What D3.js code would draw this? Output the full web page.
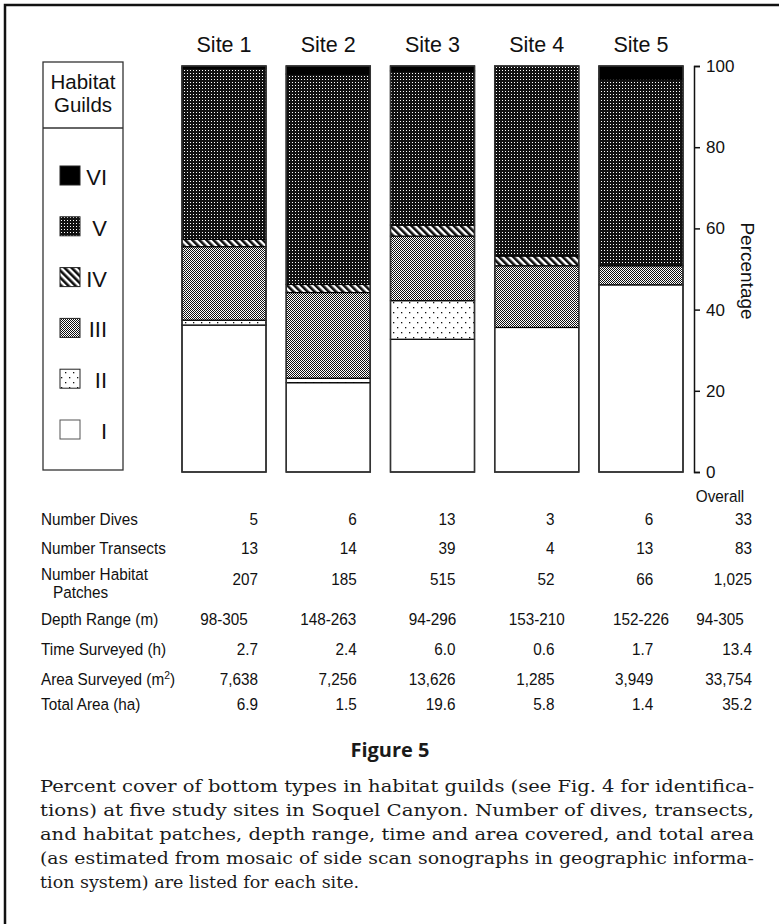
<!DOCTYPE html>
<html><head><meta charset="utf-8">
<script src="https://cdn.jsdelivr.net/npm/d3@7"></script>
<style>body{margin:0;background:#fff} svg{display:block}</style>
</head><body><svg id="c" width="779" height="924"></svg>
<script>
// ---------- data ----------
const sites = ["Site 1", "Site 2", "Site 3", "Site 4", "Site 5"];
const guilds = ["I", "II", "III", "IV", "V", "VI"];
const guildI   = [36.2, 22.0, 32.7, 35.6, 46.1];
const guildII  = [1.2, 1.1, 9.5, 0, 0];
const guildIII = [18.1, 21.1, 15.9, 15.2, 4.7];
const guildIV  = [1.8, 2.0, 2.7, 2.4, 0];
const guildV   = [42.2, 51.8, 38.0, 46.8, 46.0];
const guildVI  = [0.5, 2.0, 1.2, 0, 3.2];
const yTicks = [0, 20, 40, 60, 80, 100];

const tableCols = ["Site 1", "Site 2", "Site 3", "Site 4", "Site 5", "Overall"];
const rowNames = ["Number Dives", "Number Transects", "Number Habitat Patches", "Depth Range (m)",
                  "Time Surveyed (h)", "Area Surveyed (m2)", "Total Area (ha)"];
const numberDives     = ["5", "6", "13", "3", "6", "33"];
const numberTransects = ["13", "14", "39", "4", "13", "83"];
const numberPatches   = ["207", "185", "515", "52", "66", "1,025"];
const depthRange      = ["98-305", "148-263", "94-296", "153-210", "152-226", "94-305"];
const timeSurveyed    = ["2.7", "2.4", "6.0", "0.6", "1.7", "13.4"];
const areaSurveyed    = ["7,638", "7,256", "13,626", "1,285", "3,949", "33,754"];
const totalArea       = ["6.9", "1.5", "19.6", "5.8", "1.4", "35.2"];

const captionTitle = "Figure 5";
const captionLines = [
  "Percent cover of bottom types in habitat guilds (see Fig. 4 for identifica-",
  "tions) at five study sites in Soquel Canyon. Number of dives, transects,",
  "and habitat patches, depth range, time and area covered, and total area",
  "(as estimated from mosaic of side scan sonographs in geographic informa-",
  "tion system) are listed for each site."
];

// ---------- setup ----------
const svg = d3.select("#c");
const SANS = "'Liberation Sans', Arial, Helvetica, sans-serif";
const defs = svg.append("defs");

function pattern(id, w, h, build, transform) {
  const p = defs.append("pattern").attr("id", id).attr("patternUnits", "userSpaceOnUse")
    .attr("width", w).attr("height", h);
  if (transform) p.attr("patternTransform", transform);
  build(p);
}
pattern("pI", 4, 4, p => p.append("rect").attr("width", 4).attr("height", 4).attr("fill", "#fff"));
pattern("pII", 8, 10, p => {
  p.append("rect").attr("width", 8).attr("height", 10).attr("fill", "#fff");
  p.append("rect").attr("x", 1).attr("y", 2).attr("width", 1.3).attr("height", 1.3).attr("fill", "#111");
  p.append("rect").attr("x", 5).attr("y", 7).attr("width", 1.3).attr("height", 1.3).attr("fill", "#111");
});
pattern("pIII", 2, 2, p => {
  p.append("rect").attr("width", 2).attr("height", 2).attr("fill", "#fff");
  p.append("rect").attr("width", 1).attr("height", 1).attr("fill", "#111");
  p.append("rect").attr("x", 1).attr("y", 1).attr("width", 1).attr("height", 1).attr("fill", "#111");
});
pattern("pIV", 5, 5, p => {
  p.append("rect").attr("width", 5).attr("height", 5).attr("fill", "#fff");
  p.append("rect").attr("width", 2.6).attr("height", 5).attr("fill", "#111");
}, "rotate(-45)");
pattern("pV", 3, 3, p => {
  p.append("rect").attr("width", 3).attr("height", 3).attr("fill", "#111");
  p.append("rect").attr("x", 1).attr("y", 1).attr("width", 1).attr("height", 1).attr("fill", "#fff");
});
pattern("pVI", 4, 4, p => p.append("rect").attr("width", 4).attr("height", 4).attr("fill", "#000"));

// outer frame
svg.append("rect").attr("x", 5).attr("y", 5).attr("width", 800).attr("height", 940)
  .attr("fill", "none").attr("stroke", "#111").attr("stroke-width", 2.5);

// ---------- scales ----------
const x = d3.scaleBand().domain(sites).range([182, 683]).paddingInner(0.194).paddingOuter(0);
const y = d3.scaleLinear().domain([0, 100]).range([472, 66]);

const rows = sites.map((s, i) => ({
  site: s, I: guildI[i], II: guildII[i], III: guildIII[i], IV: guildIV[i], V: guildV[i], VI: guildVI[i]
}));
const stacked = d3.stack().keys(guilds)(rows);

// ---------- bars ----------
const gBars = svg.append("g");
stacked.forEach(layer => {
  gBars.selectAll(null).data(layer.filter(d => d[1] - d[0] > 0)).join("rect")
    .attr("x", d => x(d.data.site))
    .attr("width", x.bandwidth())
    .attr("y", d => y(d[1]))
    .attr("height", d => y(d[0]) - y(d[1]))
    .attr("fill", `url(#p${layer.key})`)
    .attr("stroke", "#000").attr("stroke-width", 1.2);
});
gBars.selectAll(".outline").data(sites).join("rect")
  .attr("x", d => x(d)).attr("width", x.bandwidth())
  .attr("y", y(100)).attr("height", y(0) - y(100))
  .attr("fill", "none").attr("stroke", "#333").attr("stroke-width", 1.5);

// site labels
svg.selectAll(".site").data(sites).join("text")
  .attr("x", d => x(d) + x.bandwidth() / 2).attr("y", 52)
  .attr("text-anchor", "middle").attr("font-family", SANS).attr("font-size", 21.5)
  .attr("fill", "#111").text(d => d);

// ---------- axis ----------
const axis = svg.append("g").attr("transform", "translate(694,0)")
  .call(d3.axisRight(y).tickValues(yTicks).tickSize(6).tickSizeOuter(6).tickPadding(6).tickFormat(d3.format("d")));
axis.selectAll("path,line").attr("stroke", "#111").attr("stroke-width", 1.5);
axis.selectAll("text").attr("font-family", SANS).attr("font-size", 17).attr("fill", "#111");
svg.append("text").attr("transform", "translate(741,271) rotate(90)")
  .attr("text-anchor", "middle").attr("font-family", SANS).attr("font-size", 19)
  .attr("fill", "#111").text("Percentage");

// ---------- legend ----------
const lg = svg.append("g");
lg.append("rect").attr("x", 43).attr("y", 62).attr("width", 80).attr("height", 408)
  .attr("fill", "none").attr("stroke", "#333").attr("stroke-width", 1.3);
lg.append("line").attr("x1", 43).attr("x2", 123).attr("y1", 128).attr("y2", 128)
  .attr("stroke", "#333").attr("stroke-width", 1.3);
lg.append("text").attr("x", 83).attr("y", 89).attr("text-anchor", "middle")
  .attr("font-family", SANS).attr("font-size", 20.5).attr("fill", "#111").text("Habitat");
lg.append("text").attr("x", 83).attr("y", 112).attr("text-anchor", "middle")
  .attr("font-family", SANS).attr("font-size", 20.5).attr("fill", "#111").text("Guilds");
const ly = d3.scalePoint().domain(guilds.slice().reverse()).range([166, 420]);
lg.selectAll(".sw").data(guilds).join("rect")
  .attr("x", 60).attr("y", d => ly(d)).attr("width", 20).attr("height", 19)
  .attr("fill", d => `url(#p${d})`).attr("stroke", d => d === "I" ? "#555" : "#222").attr("stroke-width", 1);
lg.selectAll(".lt").data(guilds).join("text")
  .attr("x", 107).attr("y", d => ly(d) + 19).attr("text-anchor", "end")
  .attr("font-family", SANS).attr("font-size", 22).attr("fill", "#111").text(d => d);

// ---------- table ----------
const tableRows = [numberDives, numberTransects, numberPatches, depthRange, timeSurveyed, areaSurveyed, totalArea];
const rowBase = d3.scaleOrdinal(rowNames, [525, 554, 585, 625, 655, 685, 710]);
const colRight = d3.scalePoint().domain(tableCols).range([258, 752]);
const colCenter = c => c === "Overall" ? colRight(c) - 32 : x(c) + x.bandwidth() / 2;
const tg = svg.append("g").attr("font-family", SANS).attr("font-size", 17).attr("fill", "#111");
const SX = 0.9;
const place = (sel, px, py) => sel.attr("transform", `translate(${px},${py}) scale(${SX},1)`);

place(tg.append("text").attr("text-anchor", "middle").text("Overall"), colCenter("Overall"), 502);

rowNames.forEach((name, ri) => {
  const yb = rowBase(name);
  if (name === "Number Habitat Patches") {
    place(tg.append("text").text("Number Habitat"), 41, yb - 5);
    place(tg.append("text").text("Patches"), 53, yb + 13);
  } else if (name === "Area Surveyed (m2)") {
    const t = place(tg.append("text"), 41, yb);
    t.append("tspan").text("Area Surveyed (m");
    t.append("tspan").attr("dy", -6).attr("font-size", 11.5).text("2");
    t.append("tspan").attr("dy", 6).text(")");
  } else {
    place(tg.append("text").text(name), 41, yb);
  }
  const isDepth = name === "Depth Range (m)";
  tg.selectAll(null).data(tableRows[ri]).join("text")
    .attr("transform", (d, i) => `translate(${isDepth ? colCenter(tableCols[i]) : colRight(tableCols[i])},${yb}) scale(${SX},1)`)
    .attr("text-anchor", isDepth ? "middle" : "end")
    .text(d => d);
});

// ---------- caption ----------
svg.append("text").attr("x", 390).attr("y", 757).attr("text-anchor", "middle")
  .attr("font-family", "'Open Sans', 'Liberation Sans', sans-serif").attr("font-weight", "bold")
  .attr("font-size", 20).attr("fill", "#1a1a1a").text(captionTitle);
const cap = svg.append("g").attr("font-family", "'DejaVu Serif', 'Liberation Serif', serif")
  .attr("font-size", 17.5).attr("fill", "#1a1a1a");
cap.selectAll("text").data(captionLines).join("text")
  .attr("x", 40).attr("y", (d, i) => 792 + i * 24)
  .each(function (d, i) {
    if (i < captionLines.length - 1) d3.select(this).attr("textLength", 714).attr("lengthAdjust", "spacingAndGlyphs");
  })
  .text(d => d);
</script>
</body></html>
